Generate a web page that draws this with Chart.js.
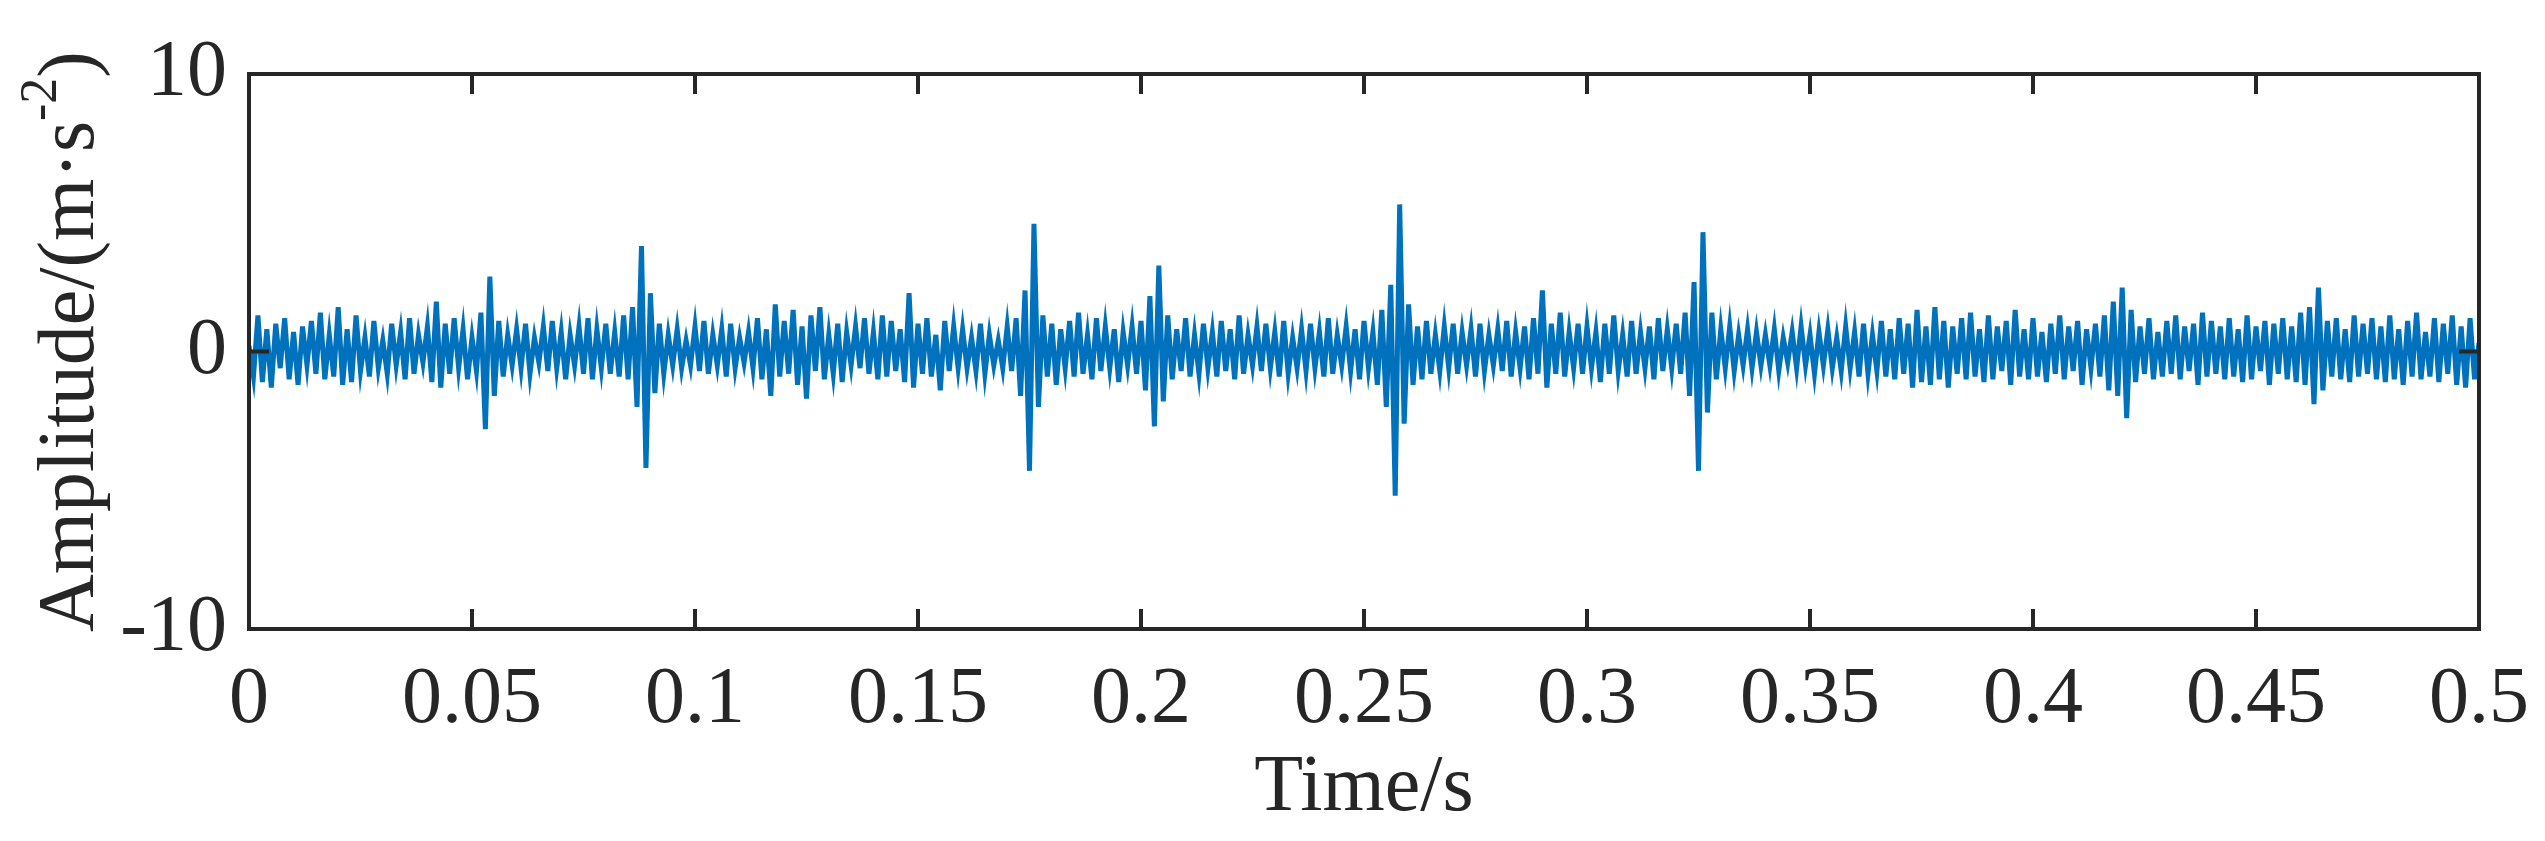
<!DOCTYPE html>
<html>
<head>
<meta charset="utf-8">
<script src="https://cdn.jsdelivr.net/npm/chart.js@4"></script>
<style>
  html, body { margin: 0; padding: 0; background: #fff; }
  #wrap { width: 2545px; height: 841px; }
</style>
</head>
<body>
<div id="wrap"><canvas id="sig"></canvas></div>
<script>
// vibration signal, one sample per ms (0 .. 0.5 s)
const sampleStep = 0.001;
const amplitude = [
  0.2,-0.9,1.3,-1.1,0.8,-1.3,1.0,-0.6,1.2,-1.0,0.7,-1.2,0.9,-0.5,1.1,-0.8,1.4,-1.0,0.6,-0.9,
  1.6,-1.2,0.8,-1.1,1.3,-0.7,0.5,-0.9,1.1,-0.6,0.4,-0.8,1.0,-0.5,0.7,-1.0,1.2,-0.8,0.6,-0.4,
  0.9,-1.1,1.8,-1.3,1.0,-0.8,1.2,-0.6,0.8,-1.0,0.5,-0.7,1.4,-2.8,2.7,-1.6,1.1,-0.9,0.6,-0.5,
  0.8,-0.6,1.0,-0.8,0.5,-0.4,0.9,-0.7,1.1,-0.6,0.7,-1.0,0.6,-0.5,0.9,-0.8,1.2,-1.0,0.8,-0.6,
  1.0,-0.8,0.7,-0.9,1.3,-1.0,1.6,-2.0,3.8,-4.2,2.1,-1.5,1.0,-0.8,0.6,-0.5,0.8,-0.6,0.4,-0.5,
  0.9,-0.7,1.1,-0.8,0.6,-0.5,0.8,-0.9,1.0,-0.6,0.5,-0.4,0.7,-0.6,1.2,-1.0,0.8,-1.6,1.7,-0.9,
  1.1,-0.8,1.5,-1.2,0.9,-1.7,1.3,-0.7,1.6,-1.0,0.6,-0.8,1.0,-1.1,0.7,-0.5,0.9,-0.6,1.2,-0.8,
  0.7,-1.0,1.3,-0.9,1.1,-0.7,0.8,-1.1,2.1,-1.3,1.0,-0.8,1.2,-0.9,0.6,-1.4,1.1,-0.7,0.9,-0.6,
  0.8,-0.6,0.5,-0.7,1.0,-0.8,0.6,-0.5,0.4,-0.6,0.9,-0.7,1.2,-1.6,2.2,-4.3,4.6,-2.0,1.3,-0.9,
  1.0,-1.2,0.8,-0.6,1.1,-0.9,1.4,-0.8,0.6,-1.0,1.2,-0.7,0.9,-0.6,0.8,-1.1,0.7,-0.5,0.9,-0.8,
  1.1,-1.4,2.0,-2.7,3.1,-1.8,1.3,-1.0,0.8,-0.7,1.2,-0.9,0.6,-0.8,1.0,-0.6,0.7,-0.9,1.1,-0.7,
  0.8,-1.0,1.3,-0.8,0.6,-0.5,0.9,-0.7,1.0,-0.6,0.7,-0.9,1.1,-0.8,0.5,-0.6,0.8,-0.7,1.0,-0.6,
  0.7,-0.9,1.2,-0.8,0.6,-0.5,0.9,-0.7,0.8,-1.0,1.1,-0.6,0.7,-1.2,1.5,-2.0,2.4,-5.2,5.3,-2.6,
  1.7,-1.2,0.9,-1.0,1.1,-0.8,0.6,-0.7,0.9,-0.6,1.0,-0.8,0.7,-0.5,0.8,-0.9,1.0,-0.7,0.6,-0.5,
  0.8,-0.7,1.1,-0.9,0.7,-0.6,0.9,-1.0,1.2,-0.8,2.2,-1.3,1.0,-0.8,1.4,-0.9,0.7,-0.6,1.0,-0.8,
  0.9,-0.6,0.7,-1.1,1.0,-0.8,1.3,-0.7,0.6,-0.9,1.1,-0.8,0.7,-0.6,0.9,-1.0,1.2,-0.7,0.8,-0.6,
  1.0,-0.8,1.4,-1.6,2.5,-4.3,4.3,-2.2,1.4,-1.0,0.8,-0.6,0.9,-0.7,0.6,-0.5,0.8,-0.6,0.7,-0.5,
  0.6,-0.5,0.8,-0.7,0.5,-0.4,0.7,-0.6,0.9,-0.5,0.6,-0.8,0.7,-0.5,0.8,-0.6,0.5,-0.7,0.9,-0.6,
  0.7,-0.9,1.0,-0.8,0.6,-0.7,1.1,-0.9,0.8,-1.0,1.2,-0.8,1.0,-1.3,1.5,-1.1,0.9,-1.2,1.6,-1.0,
  1.1,-1.3,0.9,-0.8,1.2,-1.0,1.4,-0.9,0.8,-1.1,1.3,-1.0,0.9,-0.7,1.1,-1.2,1.5,-0.9,0.8,-1.0,
  1.2,-0.9,0.7,-1.1,1.0,-0.8,1.3,-1.0,0.9,-0.7,1.1,-1.2,0.8,-0.6,1.0,-0.9,1.3,-1.4,1.8,-1.6,
  2.3,-2.4,1.5,-1.1,0.9,-0.8,1.2,-1.0,0.7,-0.9,1.1,-0.8,1.3,-1.0,0.9,-0.7,1.0,-1.2,1.4,-0.9,
  1.1,-0.8,0.9,-1.0,1.2,-0.9,0.8,-1.1,1.3,-1.0,0.9,-0.7,1.1,-1.2,1.0,-0.8,1.2,-1.0,0.9,-1.1,
  1.4,-1.2,1.6,-1.9,2.3,-1.4,1.1,-0.9,1.2,-1.0,0.8,-1.1,1.3,-0.9,1.0,-0.8,1.2,-1.0,0.9,-1.1,
  1.3,-1.0,0.8,-1.2,1.1,-0.9,1.4,-1.0,0.7,-0.9,1.2,-1.1,1.0,-0.8,1.3,-1.2,0.9,-1.3,1.2,-1.0,
  0.3
];
const xTicks = [0, 0.05, 0.1, 0.15, 0.2, 0.25, 0.3, 0.35, 0.4, 0.45, 0.5];
const yTicks = [-10, 0, 10];

const points = amplitude.map((v, i) => ({ x: i * sampleStep, y: v }));
const FONT = "'Liberation Serif', 'Times New Roman', serif";
const INK = "#262626";
const SIZE = 80;

// box, inward ticks and the y title with its superscript
const framePlugin = {
    id: "frame",
    afterDraw(chart) {
        const { ctx, chartArea: a, scales } = chart;
        ctx.save();
        ctx.strokeStyle = INK;
        ctx.lineWidth = 4;
        ctx.strokeRect(a.left, a.top, a.right - a.left, a.bottom - a.top);
        const t = 20;
        ctx.beginPath();
        xTicks.forEach(v => {
            const px = scales.x.getPixelForValue(v);
            ctx.moveTo(px, a.bottom); ctx.lineTo(px, a.bottom - t);
            ctx.moveTo(px, a.top); ctx.lineTo(px, a.top + t);
        });
        yTicks.forEach(v => {
            const py = scales.y.getPixelForValue(v);
            ctx.moveTo(a.left, py); ctx.lineTo(a.left + t, py);
            ctx.moveTo(a.right, py); ctx.lineTo(a.right - t, py);
        });
        ctx.stroke();

        // y axis title
        ctx.fillStyle = INK;
        ctx.translate(72, (a.top + a.bottom) / 2 - 10);
        ctx.rotate(-Math.PI / 2);
        ctx.font = SIZE + "px " + FONT;
        const main = "Amplitude/(m\u00B7s";
        const sup = "-2";
        const w1 = ctx.measureText(main).width;
        ctx.font = "52px " + FONT;
        const w2 = ctx.measureText(sup).width;
        ctx.font = SIZE + "px " + FONT;
        const w3 = ctx.measureText(")").width;
        const x0 = -(w1 + w2 + w3) / 2;
        ctx.textBaseline = "middle";
        ctx.fillText(main, x0, 0);
        ctx.font = "52px " + FONT;
        ctx.fillText(sup, x0 + w1, -30);
        ctx.font = SIZE + "px " + FONT;
        ctx.fillText(")", x0 + w1 + w2, 0);
        ctx.restore();
    }
};

new Chart(document.getElementById("sig"), {
    type: "line",
    data: {
        datasets: [{
            data: points,
            borderColor: "#0072BD",
            borderWidth: 5,
            pointRadius: 0,
            tension: 0,
            fill: false
        }]
    },
    options: {
        responsive: true,
        maintainAspectRatio: false,
        animation: false,
        layout: { padding: { top: 74, right: 29, left: 0, bottom: 0 } },
        plugins: { legend: { display: false }, tooltip: { enabled: false } },
        scales: {
            x: {
                type: "linear",
                min: 0, max: 0.5,
                afterBuildTicks: s => { s.ticks = xTicks.map(v => ({ value: v })); },
                afterFit: s => { s.height = 212; },
                grid: { display: false },
                border: { display: false },
                ticks: {
                    color: INK, font: { family: FONT, size: SIZE }, padding: 16,
                    callback: v => String(v)
                },
                title: {
                    display: true, text: "Time/s", color: INK,
                    font: { family: FONT, size: SIZE }, padding: { top: 0 }
                }
            },
            y: {
                min: -10, max: 10,
                afterBuildTicks: s => { s.ticks = yTicks.map(v => ({ value: v })); },
                afterFit: s => { s.width = 249; },
                grid: { display: false },
                border: { display: false },
                ticks: {
                    color: INK, font: { family: FONT, size: SIZE }, padding: 14,
                    callback: v => String(v)
                }
            }
        }
    },
    plugins: [framePlugin]
});
</script>
</body>
</html>
